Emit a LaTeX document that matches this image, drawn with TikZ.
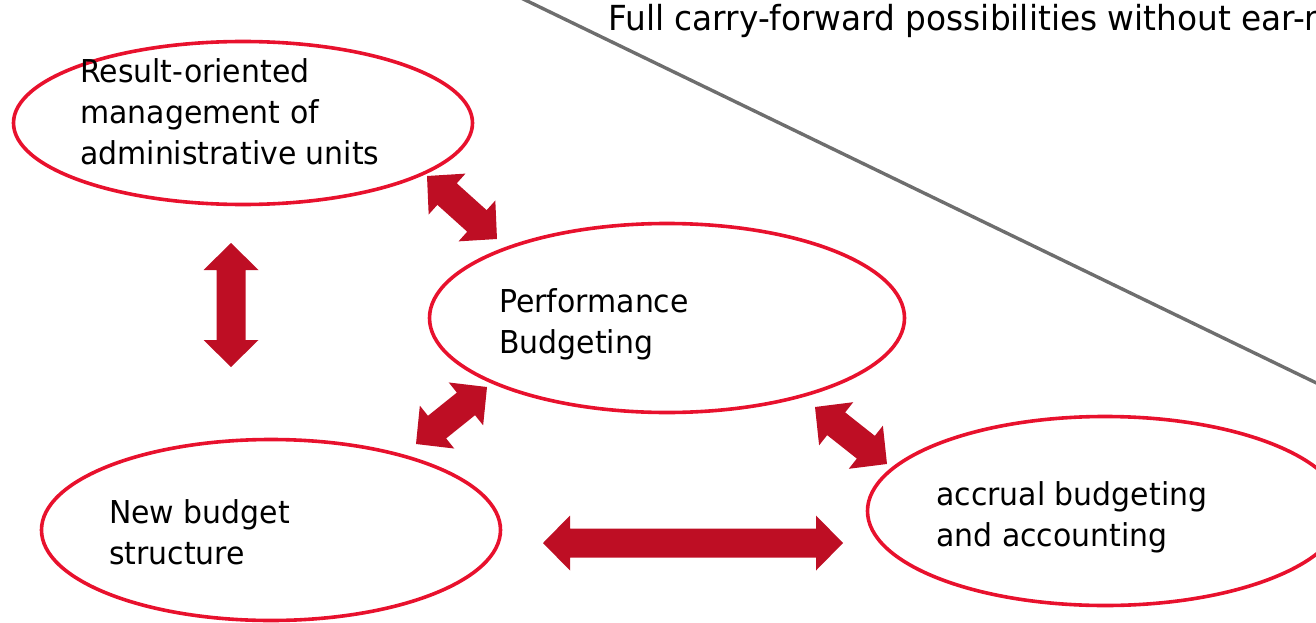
\documentclass[tikz,border=0pt]{standalone}
\usepackage{fontspec}
\setmainfont{DejaVu Sans}[FakeStretch=0.95]
\usetikzlibrary{shapes.geometric,calc}
\definecolor{ringred}{RGB}{232,17,45}
\definecolor{arrowred}{RGB}{190,14,36}
\definecolor{rulegray}{RGB}{110,110,110}
\tikzset{
  ring/.style={ellipse, draw=ringred, line width=3.6pt, inner sep=0pt},
  txt/.style={anchor=base west, inner sep=0pt, font=\fontsize{31.5}{41}\selectfont},
  rule/.style={draw=rulegray, line width=3.4pt},
}
% two-headed block arrow between two named points
\newcommand\blockarrow[2]{%
  \fill[arrowred] let \p1=($(#2)-(#1)$), \n1={atan2(\y1,\x1)}, \n2={veclen(\x1,\y1)} in
    [shift={(#1)}, rotate=\n1]
    (0,0) -- (27,27.5) -- (27,14.5) -- (\n2-27,14.5) -- (\n2-27,27.5) -- (\n2,0)
    -- (\n2-27,-27.5) -- (\n2-27,-14.5) -- (27,-14.5) -- (27,-27.5) -- cycle;
}
\newcommand\lines[1]{\begin{tabular}[t]{@{}l@{}}#1\end{tabular}}
\begin{document}
\begin{tikzpicture}[x=1pt,y=-1pt]
  \useasboundingbox (0,0) rectangle (1316,623);

  % dividing rule
  \coordinate (ruleA) at (519,-3);
  \coordinate (ruleB) at (1335,392);
  \draw[rule] (ruleA) -- (ruleB);

  % the four areas of reform
  \node[ring, minimum width=459pt, minimum height=163pt] (mgmt)   at (243,123) {};
  \node[ring, minimum width=475pt, minimum height=189pt] (perf)   at (667,318) {};
  \node[ring, minimum width=459pt, minimum height=181pt] (struct) at (271,530) {};
  \node[ring, minimum width=475pt, minimum height=189pt] (accr)   at (1105,511) {};

  \node[txt] (mgmtText)   at (80,83)   {\lines{Result-oriented\\management of\\administrative units}};
  \node[txt] (perfText)   at (499,312) {\lines{Performance\\Budgeting}};
  \node[txt] (structText) at (109,523) {\lines{New budget\\structure}};
  \node[txt] (accrText)   at (936,505) {\lines{accrual budgeting\\and accounting}};
  \node[txt, font=\fontsize{34.5}{41}\selectfont] (carryText) at (608,31)
    {Full carry-forward possibilities without ear-marking};

  % arrow end points
  \coordinate (mgmtS)   at (231,243);
  \coordinate (structN) at (231,367);
  \coordinate (mgmtSE)  at (427,176);
  \coordinate (perfNW)  at (497,239);
  \coordinate (structNE) at (416,444);
  \coordinate (perfSW)  at (487,387);
  \coordinate (perfSE)  at (815,407);
  \coordinate (accrNW)  at (887,464);
  \coordinate (structE) at (543,543);
  \coordinate (accrW)   at (843,543);

  \blockarrow{mgmtS}{structN}
  \blockarrow{mgmtSE}{perfNW}
  \blockarrow{structNE}{perfSW}
  \blockarrow{perfSE}{accrNW}
  \blockarrow{structE}{accrW}
\end{tikzpicture}
\end{document}
